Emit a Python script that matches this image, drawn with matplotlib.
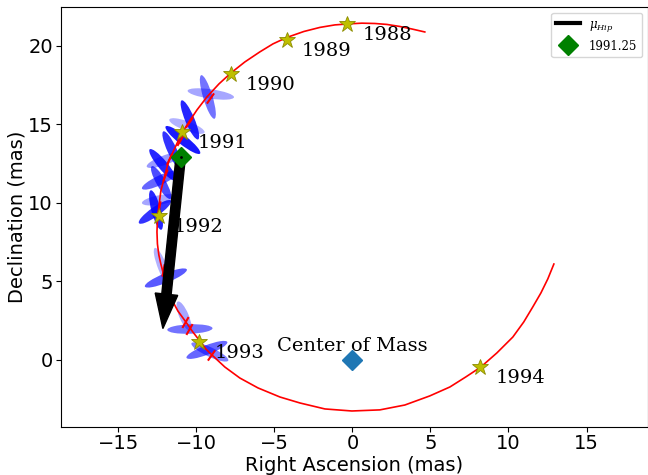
import numpy as np
import matplotlib.pyplot as plt
from matplotlib.patches import Ellipse
from matplotlib.lines import Line2D

plt.rcParams['mathtext.fontset'] = 'dejavuserif'

# orbit track (mas)
orb_ra = [4.64, 3.81, 3.04, 2.21, 1.44, 0.61, -0.16, -1.12, -2.08, -3.11,
          -4.20, -5.09, -5.93, -6.89, -7.78, -8.55, -9.32, -9.96, -10.47, -10.99,
          -11.37, -11.76, -12.01, -12.27, -12.40, -12.49, -12.52, -12.49, -12.40, -12.27,
          -12.14, -11.88, -11.56, -11.18, -10.67, -10.22, -9.77, -9.39, -9.00, -8.17,
          -7.21, -6.05, -4.64, -3.36, -1.76, -0.03, 1.76, 3.36, 4.96, 6.25,
          7.27, 8.23, 9.26, 10.28, 10.98, 11.56, 12.08, 12.52, 12.91]
orb_dec = [20.89, 21.08, 21.24, 21.37, 21.43, 21.45, 21.41, 21.34, 21.18, 20.92,
           20.54, 20.13, 19.62, 18.98, 18.28, 17.58, 16.75, 15.92, 15.16, 14.33,
           13.50, 12.68, 11.78, 10.76, 9.75, 8.92, 8.15, 7.39, 6.69, 6.11,
           5.61, 4.65, 3.82, 3.12, 2.42, 1.78, 1.21, 0.70, 0.32, -0.45,
           -1.15, -1.78, -2.36, -2.74, -3.12, -3.25, -3.18, -2.87, -2.29, -1.72,
           -1.08, -0.45, 0.45, 1.46, 2.42, 3.38, 4.27, 5.16, 6.11]

# yearly positions
years = ['1988', '1989', '1990', '1991', '1992', '1993', '1994']
yr_ra = [-0.35, -4.2, -7.8, -10.9, -12.4, -9.8, 8.2]
yr_dec = [21.4, 20.4, 18.2, 14.5, 9.2, 1.15, -0.45]

# epochs of the measurements on the orbit, with tick orientation (deg)
obs_ra = [-9.13, -10.47, -11.05, -11.75, -12.01, -12.40, -12.15, -10.70, -10.44, -9.03]
obs_dec = [16.69, 15.16, 14.01, 12.80, 11.78, 9.75, 5.73, 2.42, 1.97, 0.32]
obs_ang = [-35, -35, -30, -25, -20, -10, -10, -30, -30, -35]

# measurement error ellipses
ell_ra = [-9.26, -9.07, -10.41, -10.6, -10.86, -11.56, -12.0, -12.15, -12.3,
          -12.25, -12.58, -12.65, -12.3, -12.14, -11.95, -10.79, -10.41, -9.32, -9.13]
ell_dec = [16.75, 16.94, 15.29, 14.9, 14.01, 13.38, 12.74, 12.42, 11.46,
           11.3, 9.55, 9.43, 10.2, 5.86, 5.22, 2.80, 1.97, 0.64, 0.51]
ell_len = [2.9, 3.0, 2.7, 2.4, 2.8, 2.6, 2.5, 2.6, 2.6,
           2.4, 2.6, 2.5, 2.4, 2.75, 2.9, 2.0, 2.9, 2.8, 2.6]
ell_ang = [107, -8, 113, -20, -38, 115, 20, -50, 25,
           -60, 105, 35, 10, 112, 22, 113, 2, 21, -25]
ell_alpha = [0.55, 0.35, 0.85, 0.3, 0.9, 0.8, 0.4, 0.85, 0.6,
             0.7, 0.85, 0.8, 0.35, 0.3, 0.65, 0.35, 0.55, 0.6, 0.5]

# Hipparcos proper motion arrow, from the 1991.25 position
hip_ra, hip_dec = -11.0, 12.9
mu_ra, mu_dec = -1.14, -10.9

fig = plt.figure(figsize=(6.48, 4.75), dpi=100)
ax = fig.add_axes([60.5/648, 48/475, 587.5/648, 420/475])

for i in range(len(ell_ra)):
    e = Ellipse((ell_ra[i], ell_dec[i]), ell_len[i], 0.6, angle=ell_ang[i],
                color='blue', alpha=ell_alpha[i], lw=0, zorder=1)
    ax.add_patch(e)

ax.plot(orb_ra, orb_dec, color='red', lw=1.2, zorder=2)
for i in range(len(obs_ra)):
    ax.plot(obs_ra[i], obs_dec[i], marker=(2, 0, obs_ang[i]), color='red',
            ms=9, mew=1.5, zorder=3)

ax.plot(yr_ra, yr_dec, '*', color='y', mec='#8c8c00', mew=0.6, ms=12, zorder=5)
for i in range(len(years)):
    ax.annotate(years[i], (yr_ra[i], yr_dec[i]), xytext=(11, -8),
                textcoords='offset points', ha='left', va='center',
                family='DejaVu Serif', fontsize=14)

ax.arrow(hip_ra, hip_dec, mu_ra, mu_dec, width=0.6, head_width=1.45,
         head_length=2.2, length_includes_head=True, color='k', zorder=4)
ax.plot(hip_ra, hip_dec, 'D', color='green', ms=10, zorder=6)
ax.plot(hip_ra, hip_dec, '.', color='k', ms=2, zorder=7)

ax.plot(0, 0, 'D', color='C0', ms=10, zorder=5)
ax.text(-4.8, 0.6, 'Center of Mass', family='DejaVu Serif', fontsize=14)

ax.set_xlim(-18.7, 18.94)
ax.set_ylim(-4.27, 22.48)
ax.tick_params(labelsize=14)
ax.tick_params(axis='x', pad=1.5)
ax.tick_params(axis='y', pad=2)
ax.set_xlabel('Right Ascension (mas)', fontsize=14, labelpad=2)
ax.set_ylabel('Declination (mas)', fontsize=14, labelpad=1)

handles = [Line2D([], [], color='k', lw=3),
           Line2D([], [], marker='D', color='green', ls='', ms=10)]
ax.legend(handles, [r'$\mu_{Hip}$', '1991.25'], loc='upper right',
          prop={'family': 'DejaVu Serif', 'size': 8.5})

fig.savefig('out.png')
